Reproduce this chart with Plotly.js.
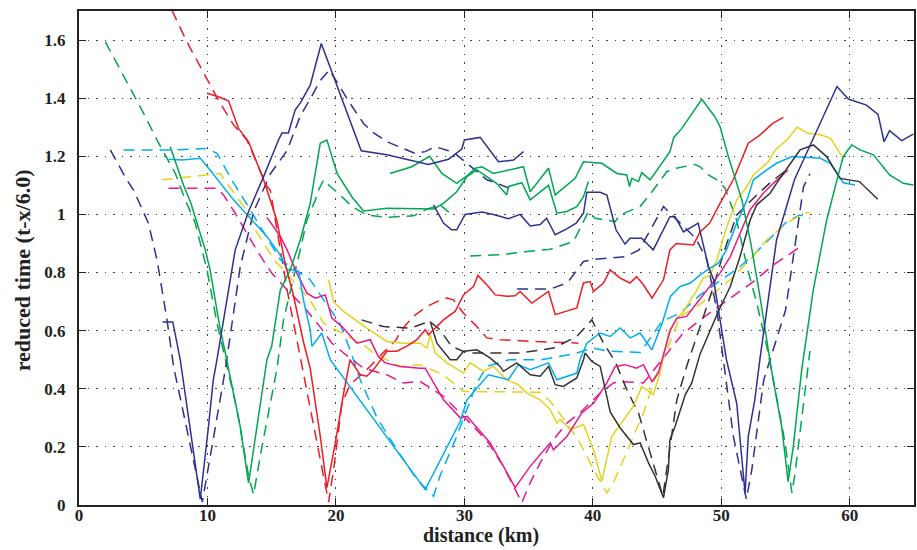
<!DOCTYPE html>
<html>
<head>
<meta charset="utf-8">
<script src="https://cdn.plot.ly/plotly-3.0.1.min.js"></script>
<style>html,body{margin:0;padding:0;background:#fff;}#chart{width:917px;height:550px;}</style>
</head>
<body>
<div id="chart"></div>
<script>
// ---- data (distance km, reduced time) ----
var blueASolidX = [6.5, 7.3, 7.88, 8.8, 9.44, 10.08, 10.45, 10.74, 11.9, 12.16, 13.2, 14.37, 15.53, 15.8, 16.3, 16.83, 17.22, 18.0, 18.86, 21.97, 23.97, 26.43, 27.2, 28.76, 29.8, 30.0, 31.23, 32.65, 33.82, 34.6];
var blueASolidY = [0.63, 0.63, 0.5, 0.225, 0.02, 0.27, 0.43, 0.5, 0.81, 0.878, 1.01, 1.13, 1.256, 1.28, 1.28, 1.36, 1.383, 1.445, 1.588, 1.219, 1.205, 1.178, 1.172, 1.19, 1.225, 1.256, 1.265, 1.181, 1.187, 1.216];
var blueADashX = [2.44, 3.73, 4.25, 5.4, 6.07, 6.85, 7.36, 8.66, 9.6, 11.39, 12.55, 13.6, 14.9, 16.2, 17.2, 18.1, 18.8, 19.5, 20.33, 21.1, 22.15, 22.8, 23.97, 25.26, 26.17, 26.95, 27.73, 28.76, 29.4, 30.2, 30.84, 31.75, 32.65, 33.82];
var blueADashY = [1.222, 1.118, 1.084, 0.97, 0.844, 0.637, 0.477, 0.2, 0.01, 0.466, 0.82, 1.01, 1.14, 1.22, 1.336, 1.405, 1.462, 1.497, 1.436, 1.382, 1.313, 1.285, 1.25, 1.227, 1.21, 1.216, 1.233, 1.219, 1.205, 1.176, 1.153, 1.119, 1.105, 1.084];
var blueBSolidX = [27.6, 28.37, 29.0, 29.4, 30.06, 31.36, 32.26, 33.43, 34.34, 35.12, 35.9, 36.4, 37.07, 37.97, 38.7, 39.27, 39.53, 40.57, 41.09, 41.8, 42.5, 42.9, 43.8, 44.7, 46.0, 46.4, 47.05, 48.2, 49.0, 49.4, 50.4, 51.2, 51.85, 52.1, 52.6, 53.0, 54.3, 55.2, 55.7, 59.0, 59.89, 61.3, 62.2, 62.67, 63.1, 64.04, 64.95];
var blueBSolidY = [1.033, 0.97, 0.947, 0.947, 1.0, 1.008, 1.0, 0.985, 1.0, 0.96, 0.965, 0.987, 0.93, 0.95, 0.97, 1.004, 1.076, 1.076, 1.067, 0.947, 0.898, 0.918, 0.918, 0.878, 0.992, 0.992, 0.94, 0.97, 0.82, 0.775, 0.5, 0.35, 0.04, 0.236, 0.36, 0.5, 0.912, 1.05, 1.12, 1.44, 1.397, 1.376, 1.344, 1.25, 1.288, 1.254, 1.276];
var blueBDashX = [34.1, 36.7, 37.6, 38.2, 39.27, 40.18, 42.6, 43.6, 44.7, 45.5, 46.8, 48.0, 48.87, 49.65, 50.94, 51.95, 52.37, 53.3, 55.0, 56.4, 56.9];
var blueBDashY = [0.743, 0.743, 0.758, 0.775, 0.838, 0.846, 0.855, 0.878, 0.964, 1.027, 0.97, 0.918, 0.845, 0.672, 0.236, 0.02, 0.12, 0.43, 0.67, 1.095, 1.14];

var greenASolidX = [7.1, 8.14, 8.7, 9.83, 10.2, 11.0, 11.5, 12.55, 13.2, 14.63, 15.0, 15.67, 16.45, 17.22, 18.0, 18.78, 19.3, 20.1, 21.25, 22.15, 23.97, 26.04, 27.6, 28.37, 29.4, 30.2, 30.97, 32.5, 33.3, 33.43, 34.47, 35.12, 36.55, 37.2, 37.97, 38.75, 39.27, 39.66];
var greenASolidY = [1.233, 1.1, 1.04, 0.878, 0.81, 0.603, 0.5, 0.27, 0.076, 0.5, 0.546, 0.74, 0.81, 0.912, 1.038, 1.245, 1.256, 1.14, 1.06, 1.012, 1.021, 1.021, 1.019, 1.038, 1.078, 1.13, 1.153, 1.107, 1.067, 1.096, 1.109, 1.05, 1.1, 1.004, 1.01, 1.027, 1.061, 1.113];
var greenADashX = [2.05, 2.96, 5.03, 6.2, 7.5, 8.27, 9.05, 9.96, 10.74, 12.3, 13.2, 13.59, 14.24, 15.4, 15.92, 17.22, 17.74, 18.4, 18.65, 19.04, 19.56, 20.33, 21.25, 22.4, 23.97, 26.04, 27.08, 28.1, 28.9];
var greenADashY = [1.594, 1.52, 1.348, 1.245, 1.141, 1.05, 0.97, 0.81, 0.626, 0.328, 0.1, 0.036, 0.2, 0.466, 0.637, 0.878, 0.98, 1.05, 1.084, 1.119, 1.096, 1.067, 1.027, 0.998, 0.99, 0.995, 1.018, 1.033, 1.004];
var greenBSolidX = [24.2, 25.9, 27.3, 28.25, 29.4, 30.3, 30.84, 31.36, 32.26, 34.6, 35.12, 36.55, 37.07, 38.62, 39.27, 40.7, 41.87, 42.64, 42.85, 43.04, 43.55, 43.81, 44.46, 46.0, 46.3, 46.93, 48.48, 49.5, 49.9, 50.55, 51.6, 52.3, 53.0, 53.9, 54.7, 55.2, 55.6, 56.26, 57.16, 58.2, 59.0, 59.5, 60.15, 60.8, 61.84, 63.1, 64.17, 64.95];
var greenBSolidY = [1.141, 1.164, 1.2, 1.141, 1.107, 1.136, 1.159, 1.164, 1.141, 1.164, 1.078, 1.159, 1.067, 1.124, 1.181, 1.176, 1.141, 1.136, 1.096, 1.124, 1.113, 1.144, 1.119, 1.216, 1.265, 1.296, 1.396, 1.336, 1.302, 1.199, 1.05, 0.9, 0.72, 0.466, 0.27, 0.08, 0.2, 0.466, 0.74, 0.98, 1.118, 1.2, 1.239, 1.222, 1.205, 1.136, 1.107, 1.101];
var greenBDashX = [30.45, 32.8, 34.86, 36.68, 38.5, 39.27, 39.66, 40.18, 41.74, 42.1, 43.67, 44.6, 45.76, 46.5, 47.96, 48.35, 49.0, 49.65, 50.3, 51.2, 52.0, 52.76, 53.54, 54.05, 54.96, 55.5, 55.74, 56.9];
var greenBDashY = [0.857, 0.861, 0.872, 0.88, 0.907, 0.975, 1.01, 0.987, 0.975, 0.998, 1.027, 1.078, 1.147, 1.159, 1.172, 1.164, 1.136, 1.119, 1.09, 0.98, 0.82, 0.695, 0.546, 0.43, 0.214, 0.042, 0.11, 0.53];

var redSolidX = [9.96, 10.86, 11.64, 12.42, 13.2, 14.37, 15.4, 16.05, 16.7, 17.48, 18.0, 18.77, 19.3, 19.95, 20.6, 21.1, 21.9, 22.4, 22.93, 23.3, 23.97, 24.75, 25.5, 26.3, 26.95, 27.2, 28.37, 29.28, 29.93, 30.71, 31.05, 31.87, 32.4, 33.3, 33.95, 34.34, 35.25, 36.55, 37.07, 38.75, 39.27, 39.79, 40.05, 40.83, 41.35, 42.13, 42.9, 43.4, 43.94, 44.6, 45.5, 46.0, 46.5, 47.83, 48.35, 49.1, 49.9, 50.94, 51.46, 52.1, 53.0, 54.0, 54.83];
var redSolidY = [1.417, 1.405, 1.391, 1.296, 1.25, 1.119, 0.98, 0.83, 0.72, 0.56, 0.47, 0.24, 0.06, 0.214, 0.385, 0.5, 0.448, 0.443, 0.466, 0.489, 0.529, 0.529, 0.546, 0.569, 0.603, 0.586, 0.637, 0.666, 0.723, 0.752, 0.79, 0.752, 0.723, 0.718, 0.72, 0.735, 0.695, 0.735, 0.655, 0.678, 0.764, 0.769, 0.735, 0.764, 0.809, 0.781, 0.764, 0.786, 0.758, 0.712, 0.775, 0.878, 0.9, 0.895, 0.94, 0.97, 1.038, 1.12, 1.176, 1.245, 1.273, 1.313, 1.334];
var redDashX = [7.23, 8.4, 10.08, 11.0, 12.03, 13.07, 13.85, 14.63, 14.89, 15.4, 16.2, 17.22, 18.26, 19.17, 19.43, 19.82, 20.47, 21.1, 22.5, 23.6, 24.7, 25.0, 26.04, 27.08, 27.86, 28.64, 29.15, 29.93, 30.97, 31.75, 32.78, 35.38, 38.88];
var redDashY = [1.703, 1.594, 1.456, 1.382, 1.308, 1.256, 1.176, 1.096, 1.084, 0.947, 0.74, 0.51, 0.27, 0.07, 0.01, 0.122, 0.35, 0.414, 0.47, 0.52, 0.569, 0.597, 0.649, 0.683, 0.7, 0.712, 0.706, 0.66, 0.614, 0.575, 0.569, 0.563, 0.557];

var cyanSolidX = [6.97, 8.02, 9.44, 10.2, 12.03, 13.59, 14.63, 15.67, 16.2, 16.45, 17.1, 17.5, 18.0, 18.13, 18.9, 19.56, 26.95, 29.68, 30.2, 31.87, 33.43, 34.2, 35.12, 36.55, 37.2, 38.75, 39.0, 39.53, 40.57, 41.35, 42.13, 42.9, 43.68, 44.6, 45.4, 46.04, 46.8, 47.6, 48.35, 49.13, 49.77, 50.4, 51.2, 52.0, 52.5, 53.54, 54.3, 55.5, 57.7, 58.47, 59.0, 59.5, 60.4];
var cyanSolidY = [1.19, 1.187, 1.193, 1.153, 1.05, 0.975, 0.924, 0.86, 0.81, 0.81, 0.804, 0.7, 0.603, 0.546, 0.592, 0.5, 0.053, 0.288, 0.362, 0.448, 0.431, 0.483, 0.466, 0.489, 0.431, 0.454, 0.5, 0.557, 0.592, 0.58, 0.609, 0.575, 0.592, 0.534, 0.626, 0.718, 0.752, 0.764, 0.792, 0.815, 0.832, 0.878, 0.97, 1.05, 1.119, 1.153, 1.176, 1.199, 1.193, 1.176, 1.141, 1.109, 1.101];
var cyanDashX = [3.47, 7.36, 9.96, 10.74, 11.13, 11.9, 12.94, 13.85, 14.9, 15.67, 18.0, 19.04, 20.3, 21.1, 21.9, 23.2, 24.75, 26.3, 27.6, 28.1, 29.4, 30.97, 31.75, 33.5, 36.0, 38.5, 40.0, 41.1, 43.7, 45.37, 46.8, 48.35, 51.46, 52.76, 54.05, 55.1, 56.1, 56.9];
var cyanDashY = [1.222, 1.222, 1.227, 1.21, 1.18, 1.118, 1.044, 0.975, 0.9, 0.844, 0.775, 0.706, 0.626, 0.534, 0.43, 0.3, 0.19, 0.088, 0.03, 0.1, 0.236, 0.42, 0.477, 0.5, 0.5, 0.52, 0.54, 0.53, 0.525, 0.632, 0.66, 0.723, 0.82, 0.872, 0.93, 0.975, 0.998, 0.987];

var magentaSolidX = [14.63, 15.67, 16.2, 16.96, 17.74, 18.4, 19.17, 19.69, 20.47, 21.64, 22.67, 23.3, 23.84, 25.0, 26.56, 26.95, 28.37, 29.68, 30.2, 32.0, 33.04, 33.95, 35.12, 36.68, 36.93, 37.98, 39.14, 40.05, 41.09, 41.74, 42.5, 43.4, 43.94, 44.6, 45.1, 46.04, 46.54, 47.3, 48.1, 49.13, 49.9, 50.7, 51.46, 52.24, 53.27, 54.05, 55.2];
var magentaSolidY = [0.99, 0.924, 0.878, 0.798, 0.729, 0.712, 0.723, 0.643, 0.614, 0.557, 0.569, 0.511, 0.489, 0.477, 0.471, 0.471, 0.362, 0.3, 0.305, 0.214, 0.133, 0.06, 0.133, 0.214, 0.19, 0.236, 0.317, 0.35, 0.42, 0.477, 0.483, 0.471, 0.483, 0.425, 0.454, 0.603, 0.643, 0.649, 0.695, 0.752, 0.798, 0.855, 0.935, 1.016, 1.073, 1.107, 1.153];
var magentaDashX = [6.97, 10.74, 11.25, 12.16, 13.07, 13.98, 15.0, 16.2, 17.48, 18.65, 19.69, 20.6, 22.15, 23.97, 25.26, 26.56, 28.37, 29.4, 30.71, 31.87, 33.04, 33.82, 34.47, 35.12, 35.9, 36.93, 37.98, 39.0, 40.57, 41.6, 42.13, 43.94, 45.76, 46.93, 48.35, 51.07, 52.5, 54.05, 56.0];
var magentaDashY = [1.09, 1.09, 1.067, 1.004, 0.935, 0.867, 0.798, 0.74, 0.683, 0.62, 0.557, 0.523, 0.471, 0.448, 0.42, 0.425, 0.374, 0.328, 0.27, 0.214, 0.133, 0.065, 0.008, 0.076, 0.145, 0.225, 0.282, 0.317, 0.385, 0.42, 0.425, 0.42, 0.523, 0.586, 0.637, 0.723, 0.769, 0.826, 0.884];

var yellowSolidX = [19.43, 19.82, 20.6, 22.4, 23.97, 25.26, 26.56, 27.08, 27.34, 27.73, 28.64, 29.93, 30.45, 31.49, 32.27, 33.3, 34.2, 34.86, 35.9, 36.68, 37.2, 37.46, 38.24, 39.27, 40.05, 40.7, 41.48, 42.38, 43.16, 43.81, 44.7, 45.24, 45.88, 46.54, 47.05, 48.1, 48.6, 49.13, 49.65, 50.43, 51.2, 52.0, 52.5, 53.66, 54.2, 55.1, 55.9, 56.78, 57.8, 58.5, 59.4];
var yellowSolidY = [0.775, 0.7, 0.666, 0.609, 0.563, 0.557, 0.557, 0.54, 0.586, 0.523, 0.489, 0.454, 0.489, 0.46, 0.477, 0.431, 0.414, 0.385, 0.362, 0.328, 0.282, 0.294, 0.259, 0.277, 0.19, 0.082, 0.236, 0.294, 0.34, 0.408, 0.38, 0.454, 0.592, 0.643, 0.666, 0.74, 0.781, 0.792, 0.844, 0.958, 1.05, 1.096, 1.136, 1.181, 1.222, 1.256, 1.3, 1.279, 1.273, 1.262, 1.199];
var yellowDashX = [6.46, 8.67, 10.08, 11.0, 11.5, 11.9, 13.1, 13.72, 15.28, 15.8, 17.74, 18.13, 18.65, 19.04, 19.95, 20.47, 21.64, 22.15, 23.0, 25.0, 26.56, 28.37, 29.93, 35.9, 36.68, 37.2, 37.98, 39.0, 40.05, 41.09, 41.6, 42.38, 43.16, 43.94, 44.46, 44.98, 45.76, 46.8, 48.1, 50.7, 52.24, 53.54, 55.1, 56.4, 56.9];
var yellowDashY = [1.119, 1.13, 1.136, 1.141, 1.107, 1.084, 1.01, 0.947, 0.838, 0.815, 0.718, 0.695, 0.655, 0.626, 0.603, 0.592, 0.563, 0.552, 0.52, 0.477, 0.483, 0.448, 0.391, 0.388, 0.357, 0.328, 0.282, 0.214, 0.122, 0.042, 0.076, 0.156, 0.236, 0.317, 0.385, 0.454, 0.534, 0.649, 0.683, 0.775, 0.844, 0.912, 0.97, 1.004, 1.007];

var blackSolidX = [27.34, 27.86, 28.9, 29.4, 29.93, 30.97, 32.0, 32.78, 33.04, 34.08, 35.12, 35.9, 36.55, 37.07, 37.7, 38.75, 39.27, 39.4, 39.92, 40.57, 41.35, 42.13, 43.16, 43.68, 44.33, 44.85, 45.5, 45.88, 46.0, 46.4, 47.2, 47.7, 48.35, 49.77, 50.7, 51.46, 52.24, 52.76, 53.8, 54.3, 55.3, 56.13, 57.17, 58.2, 59.25, 60.03, 60.75, 62.18];
var blackSolidY = [0.632, 0.557, 0.5, 0.5, 0.529, 0.534, 0.506, 0.477, 0.46, 0.489, 0.448, 0.443, 0.477, 0.414, 0.408, 0.437, 0.5, 0.523, 0.494, 0.477, 0.32, 0.265, 0.208, 0.214, 0.145, 0.099, 0.025, 0.122, 0.225, 0.27, 0.38, 0.42, 0.52, 0.666, 0.752, 0.855, 0.98, 1.033, 1.073, 1.107, 1.17, 1.222, 1.239, 1.199, 1.124, 1.119, 1.113, 1.052];
var blackDashX = [22.0, 23.7, 25.8, 27.3, 28.1, 29.0, 30.2, 31.75, 34.34, 36.93, 38.75, 39.92, 40.83, 41.74, 42.64, 43.55, 44.46, 45.1, 45.45, 46.54, 47.3, 48.35, 49.3, 50.2, 51.2, 52.6, 53.9, 55.1];
var blackDashY = [0.637, 0.614, 0.609, 0.632, 0.603, 0.546, 0.523, 0.523, 0.523, 0.54, 0.58, 0.637, 0.557, 0.494, 0.397, 0.317, 0.18, 0.076, 0.03, 0.362, 0.477, 0.614, 0.74, 0.87, 0.998, 1.06, 1.113, 1.153];

var xTickVals = [0, 10, 20, 30, 40, 50, 60];
var yTickVals = [0, 0.2, 0.4, 0.6, 0.8, 1, 1.2, 1.4, 1.6];
var yTickText = ['0', '0.2', '0.4', '0.6', '0.8', '1', '1.2', '1.4', '1.6'];
var xTitle = 'distance (km)';
var yTitle = 'reduced time (t-x/6.0)';

// ---- styling ----
var C = {blue: '#2E3192', green: '#00A651', red: '#ED1C24', cyan: '#00AEEF', magenta: '#E6198C', yellow: '#E5D21E', black: '#333333'};
var DASH = '11px,7px';
function tr(x, y, col, dashed) {
  return {x: x, y: y, type: 'scatter', mode: 'lines', hoverinfo: 'skip', showlegend: false,
    line: {color: col, width: 1.5, dash: dashed ? DASH : 'solid'}};
}
var traces = [
  tr(redDashX, redDashY, C.red, true),
  tr(greenADashX, greenADashY, C.green, true),
  tr(greenBDashX, greenBDashY, C.green, true),
  tr(cyanDashX, cyanDashY, C.cyan, true),
  tr(magentaDashX, magentaDashY, C.magenta, true),
  tr(yellowDashX, yellowDashY, C.yellow, true),
  tr(blackDashX, blackDashY, C.black, true),
  tr(blueADashX, blueADashY, C.blue, true),
  tr(blueBDashX, blueBDashY, C.blue, true),
  tr(yellowSolidX, yellowSolidY, C.yellow, false),
  tr(magentaSolidX, magentaSolidY, C.magenta, false),
  tr(cyanSolidX, cyanSolidY, C.cyan, false),
  tr(blackSolidX, blackSolidY, C.black, false),
  tr(redSolidX, redSolidY, C.red, false),
  tr(greenASolidX, greenASolidY, C.green, false),
  tr(greenBSolidX, greenBSolidY, C.green, false),
  tr(blueASolidX, blueASolidY, C.blue, false),
  tr(blueBSolidX, blueBSolidY, C.blue, false)
];

var fam = '"Liberation Serif", "Times New Roman", serif';
var axisCommon = {
  showline: true, linewidth: 2, linecolor: '#222', mirror: 'ticks',
  ticks: 'inside', ticklen: 7, tickwidth: 1, tickcolor: '#222',
  showgrid: true, gridcolor: '#444', gridwidth: 1, griddash: '1.5px,7px',
  zeroline: false, fixedrange: true,
  tickfont: {family: fam, size: 17, color: '#222', weight: 'bold'}
};
var layout = {
  width: 917, height: 550,
  margin: {l: 79, r: 3, t: 11, b: 45},
  paper_bgcolor: '#fff', plot_bgcolor: '#fff',
  showlegend: false,
  xaxis: Object.assign({}, axisCommon, {range: [0, 65], tickvals: xTickVals, ticklabelstandoff: -6}),
  yaxis: Object.assign({}, axisCommon, {range: [0, 1.7], tickvals: yTickVals, ticktext: yTickText, ticklabelstandoff: 8}),
  annotations: [
    {text: xTitle, xref: 'paper', yref: 'paper', x: 0.4814, y: -0.0880, xanchor: 'center', yanchor: 'bottom',
     borderpad: 0, showarrow: false, font: {family: fam, size: 20, color: '#222', weight: 'bold'}},
    {text: yTitle, xref: 'paper', yref: 'paper', x: -0.0683, y: 0.475, xanchor: 'center', yanchor: 'middle',
     borderpad: 0, textangle: -90, showarrow: false, font: {family: fam, size: 22, color: '#222', weight: 'bold'}}
  ]
};
Plotly.newPlot('chart', traces, layout, {displayModeBar: false, staticPlot: true});
</script>
</body>
</html>
